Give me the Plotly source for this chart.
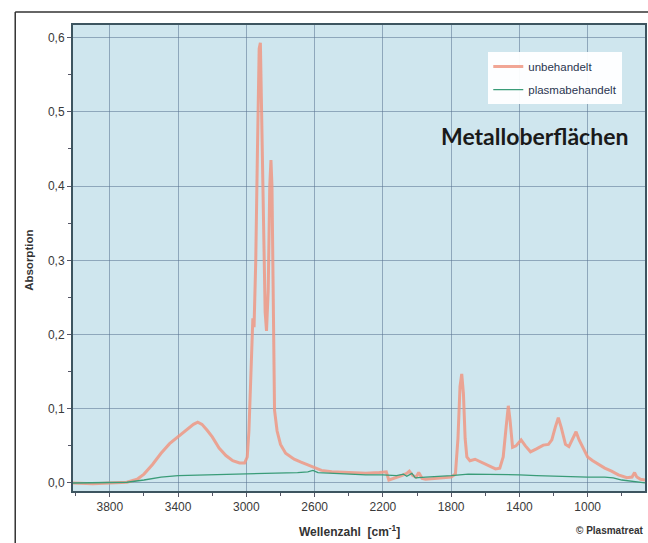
import plotly.graph_objects as go

# ---- data ----
wn_unbehandelt = [4016, 3900, 3800, 3700, 3640, 3600, 3550, 3500, 3450, 3400, 3350, 3310, 3285, 3260,
                  3230, 3200, 3160, 3120, 3080, 3040, 3010, 2995, 2985, 2975, 2968, 2962, 2955, 2945,
                  2935, 2925, 2918, 2910, 2900, 2890, 2882, 2872, 2863, 2856, 2850, 2843, 2835, 2820,
                  2800, 2770, 2720, 2680, 2620, 2560, 2500, 2400, 2300, 2220, 2180, 2165, 2140, 2120,
                  2090, 2060, 2045, 2025, 2005, 1990, 1970, 1950, 1900, 1850, 1800, 1775, 1760, 1748,
                  1738, 1728, 1718, 1708, 1690, 1660, 1620, 1580, 1540, 1515, 1495, 1478, 1465, 1455,
                  1440, 1420, 1390, 1365, 1335, 1300, 1260, 1230, 1210, 1190, 1172, 1155, 1130, 1110,
                  1090, 1068, 1050, 1030, 1000, 970, 940, 900, 860, 820, 770, 740, 725, 712, 690, 664]
abs_unbehandelt = [0.000, -0.001, 0.000, 0.001, 0.005, 0.012, 0.025, 0.040, 0.053, 0.062, 0.071, 0.079,
                   0.082, 0.079, 0.071, 0.062, 0.047, 0.037, 0.030, 0.027, 0.027, 0.035, 0.070, 0.140,
                   0.200, 0.222, 0.210, 0.300, 0.450, 0.585, 0.593, 0.500, 0.350, 0.230, 0.205, 0.260,
                   0.400, 0.435, 0.400, 0.200, 0.098, 0.070, 0.052, 0.040, 0.032, 0.028, 0.022, 0.017,
                   0.015, 0.014, 0.013, 0.014, 0.015, 0.004, 0.006, 0.007, 0.010, 0.013, 0.016, 0.010,
                   0.008, 0.014, 0.006, 0.005, 0.006, 0.007, 0.008, 0.012, 0.060, 0.130, 0.147, 0.120,
                   0.060, 0.035, 0.030, 0.032, 0.028, 0.023, 0.019, 0.020, 0.035, 0.075, 0.104, 0.085,
                   0.048, 0.050, 0.058, 0.050, 0.042, 0.046, 0.051, 0.052, 0.058, 0.075, 0.088, 0.075,
                   0.052, 0.049, 0.058, 0.069, 0.058, 0.048, 0.035, 0.030, 0.026, 0.020, 0.016, 0.011,
                   0.007, 0.008, 0.014, 0.008, 0.005, 0.004]

wn_plasma = [4016, 3800, 3700, 3600, 3500, 3400, 3200, 3000, 2900, 2800, 2700, 2640, 2610, 2580, 2500,
             2400, 2300, 2200, 2120, 2080, 2060, 2030, 2010, 1950, 1850, 1800, 1700, 1600, 1500, 1400,
             1300, 1200, 1100, 1000, 900, 850, 800, 740, 664]
abs_plasma = [0.000, 0.000, 0.001, 0.004, 0.008, 0.010, 0.011, 0.012, 0.013, 0.013, 0.014, 0.015, 0.017,
              0.014, 0.013, 0.012, 0.011, 0.011, 0.010, 0.012, 0.009, 0.013, 0.007, 0.008, 0.009, 0.010,
              0.012, 0.012, 0.012, 0.011, 0.010, 0.009, 0.008, 0.008, 0.008, 0.007, 0.004, 0.002, 0.000]

x_ticks = [3800, 3400, 3000, 2600, 2200, 1800, 1400, 1000]
y_ticks = [0.0, 0.1, 0.2, 0.3, 0.4, 0.5, 0.6]
y_ticklabels = ["0,0", "0,1", "0,2", "0,3", "0,4", "0,5", "0,6"]

fig = go.Figure()
fig.add_trace(go.Scatter(x=wn_unbehandelt, y=abs_unbehandelt, mode="lines", name="unbehandelt",
                         legendgroup="a",
                         line=dict(color="rgba(238,150,130,0.85)", width=3)))
fig.add_trace(go.Scatter(x=wn_plasma, y=abs_plasma, mode="lines", name="plasmabehandelt",
                         legendgroup="b",
                         line=dict(color="#3a9c78", width=1.3)))

tickfont = dict(family="Liberation Sans", size=12, color="#3a3a3a")
fig.update_layout(
    width=648, height=543,
    margin=dict(l=73, r=1, t=25, b=52),
    paper_bgcolor="white",
    plot_bgcolor="#cfe6ee",
    showlegend=True,
    legend=dict(x=0.726, y=0.942, xanchor="left", yanchor="top",
                bgcolor="rgba(255,255,255,0.95)", borderwidth=0, itemwidth=30,
                font=dict(family="Liberation Sans", size=11.5, color="#2a3550"),
                traceorder="grouped", tracegroupgap=4),
    xaxis=dict(range=[4016, 664], tickvals=x_ticks, ticktext=[str(v) for v in x_ticks],
               showgrid=True, gridcolor="rgba(90,115,145,0.55)", gridwidth=1,
               ticks="outside", ticklen=4, tickcolor="#556", tickfont=tickfont,
               showline=True, linecolor="#3d5560", linewidth=2, mirror=True, zeroline=False,
               minor=dict(dtick=200, tick0=3800, ticks="outside", ticklen=3, tickcolor="#556", showgrid=False)),
    yaxis=dict(range=[-0.0108, 0.617], tickvals=y_ticks, ticktext=y_ticklabels,
               showgrid=True, gridcolor="rgba(90,115,145,0.55)", gridwidth=1,
               ticks="outside", ticklen=4, tickcolor="#556", tickfont=tickfont,
               showline=True, linecolor="#3d5560", linewidth=2, mirror=True, zeroline=False,
               minor=dict(dtick=0.05, tick0=0, ticks="outside", ticklen=3, tickcolor="#556", showgrid=False)),
    font=dict(family="Liberation Sans"),
)

# Outer frame (left and top lines)
fig.add_shape(type="line", xref="paper", yref="paper", x0=-0.101, x1=-0.101, y0=-0.2, y1=1.028,
              line=dict(color="#333", width=1.5))
fig.add_shape(type="line", xref="paper", yref="paper", x0=-0.101, x1=1.1, y0=1.028, y1=1.028,
              line=dict(color="#333", width=1.5))

fig.add_annotation(text="<b>Metalloberflächen</b>", xref="paper", yref="paper", x=0.639, y=0.762,
                   xanchor="left", yanchor="middle", showarrow=False,
                   font=dict(family="Lato", size=23, color="#1a1a1a"))
fig.add_annotation(text="<b>Absorption</b>", xref="paper", yref="paper", x=-0.076, y=0.495,
                   xanchor="center", yanchor="middle", textangle=-90, showarrow=False,
                   font=dict(family="Liberation Sans", size=11.5, color="#333"))
fig.add_annotation(text="<b>Wellenzahl  [cm<sup>-1</sup>]</b>", xref="paper", yref="paper", x=0.483, y=-0.085,
                   xanchor="center", yanchor="middle", showarrow=False,
                   font=dict(family="Liberation Sans", size=12, color="#333"))
fig.add_annotation(text="<b>© Plasmatreat</b>", xref="paper", yref="paper", x=0.876, y=-0.085,
                   xanchor="left", yanchor="middle", showarrow=False,
                   font=dict(family="Liberation Sans", size=10, color="#333"))

fig.write_html("out.html", config={"displayModeBar": False},
               post_script="document.body.style.margin='0';document.body.style.overflow='hidden';")
